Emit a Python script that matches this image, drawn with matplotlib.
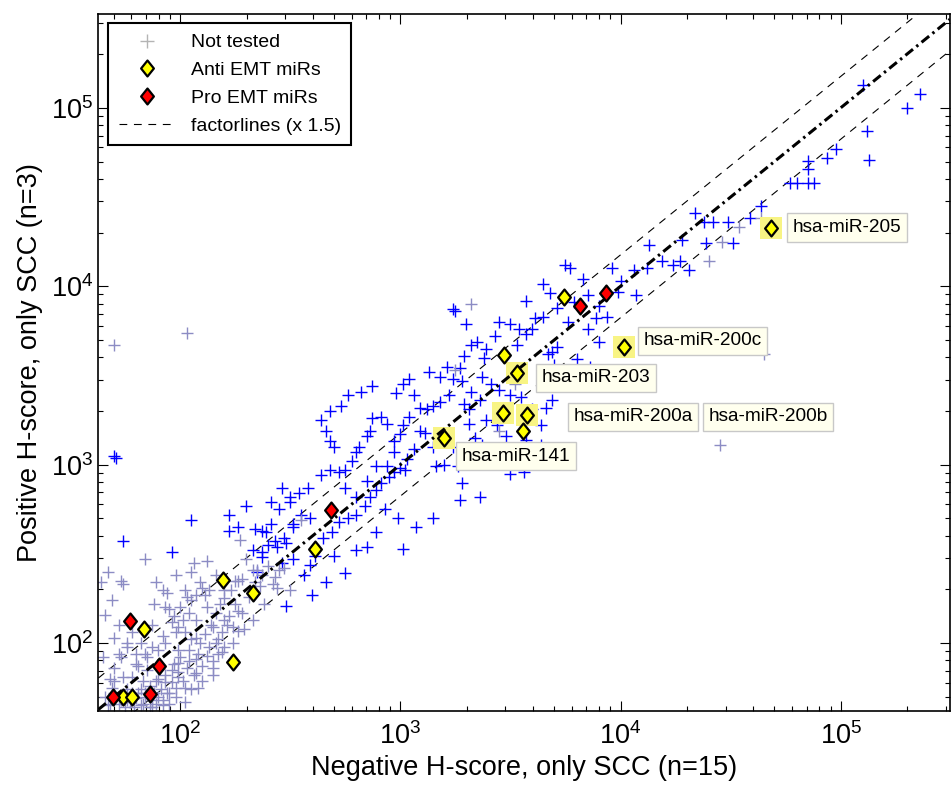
import numpy as np
import matplotlib
matplotlib.use("Agg")
import matplotlib.pyplot as plt
from matplotlib.lines import Line2D
from matplotlib.path import Path
from matplotlib.ticker import LogLocator, LogFormatterMathtext, NullFormatter

plt.rcParams['font.family'] = ['Liberation Sans', 'DejaVu Sans']
plt.rcParams['mathtext.fontset'] = 'custom'
plt.rcParams['mathtext.rm'] = 'Liberation Sans'
plt.rcParams['mathtext.it'] = 'Liberation Sans:italic'
plt.rcParams['mathtext.bf'] = 'Liberation Sans:bold'

# ---------------- data (log10 of H-scores) ----------------
blue_neg_log = [5.10, 5.36, 5.30, 5.12, 4.98, 4.94, 4.85, 4.85, 5.13, 4.77, 4.80, 4.85, 4.88,
                4.64, 4.59, 4.49, 4.42, 4.38, 4.39, 4.51, 4.34, 4.28, 4.27, 4.24, 4.19, 4.13,
                4.12, 4.06, 4.00, 3.96, 4.31, 3.77, 3.83, 3.85, 3.79, 3.71, 3.68, 3.65, 3.90,
                3.94, 3.89, 3.76, 3.85, 3.90, 3.71, 3.69, 3.67, 3.61, 3.60, 3.57, 3.54, 3.53,
                3.50, 3.45, 3.43, 3.39, 3.38, 3.35, 3.32, 3.29, 3.25, 3.24, 3.75, 3.65, 3.57,
                3.37, 3.41, 3.45, 3.50, 3.55, 3.60, 3.66, 3.69, 3.70, 3.73, 3.70, 3.77, 3.80,
                3.84, 3.86, 3.36, 3.32, 3.28, 3.27, 3.24, 3.22, 3.18, 3.15, 3.12, 3.09, 3.06,
                3.04, 3.01, 3.00, 2.97, 2.94, 2.91, 2.87, 2.86, 2.85, 2.81, 2.80, 2.78, 2.75,
                2.72, 2.70, 2.68, 2.66, 2.64, 2.68, 2.73, 2.76, 2.82, 2.87, 2.98, 3.01, 3.04,
                3.13, 3.18, 3.21, 3.30, 3.16, 3.20, 3.26, 3.28, 3.24, 3.15, 3.11, 3.09, 3.06,
                3.03, 3.00, 2.97, 2.95, 2.91, 2.89, 2.86, 2.84, 2.80, 2.76, 2.72, 2.69, 2.65,
                2.61, 2.59, 2.56, 2.59, 2.55, 2.51, 2.47, 2.43, 2.40, 2.37, 2.35, 2.37, 2.41,
                2.45, 2.50, 2.54, 2.58, 2.64, 2.68, 2.75, 2.80, 2.85, 2.89, 2.94, 2.97, 3.01,
                2.99, 2.89, 2.93, 2.85, 2.80, 2.75, 2.70, 2.66, 2.60, 2.22, 2.26, 2.30, 2.34,
                2.33, 2.37, 2.39, 2.44, 2.41, 2.22, 2.51, 2.48, 2.46, 2.51, 2.48, 2.46, 2.50,
                1.74, 1.96, 2.05, 1.70, 1.71, 3.36, 3.50, 3.56, 3.57, 3.64, 3.64, 3.40, 3.37,
                3.34, 3.31, 3.31, 3.29, 3.39, 3.44, 3.48, 3.27, 3.15, 3.07, 3.02, 4.07, 3.99]
blue_pos_log = [5.13, 5.08, 5.00, 4.87, 4.77, 4.72, 4.70, 4.66, 4.71, 4.58, 4.58, 4.58, 4.58,
                4.45, 4.38, 4.36, 4.36, 4.36, 4.24, 4.24, 4.41, 4.26, 4.14, 4.12, 4.14, 4.23,
                4.10, 4.09, 4.03, 4.10, 4.09, 4.10, 4.04, 3.95, 3.91, 3.88, 3.96, 3.83, 3.89,
                3.83, 3.82, 3.80, 3.76, 3.69, 3.66, 3.63, 3.62, 3.82, 3.76, 3.73, 3.76, 3.67,
                3.79, 3.80, 3.72, 3.65, 3.60, 3.69, 3.67, 3.61, 3.86, 3.87, 4.12, 4.01, 3.92,
                3.49, 3.45, 3.42, 3.39, 3.38, 3.31, 3.32, 3.36, 3.45, 3.48, 3.56, 3.44, 3.59,
                3.50, 3.55, 3.36, 3.41, 3.47, 3.54, 3.48, 3.39, 3.35, 3.33, 3.31, 3.32, 3.39,
                3.27, 3.22, 3.17, 3.13, 3.23, 3.27, 3.26, 3.19, 3.16, 3.10, 3.07, 3.02, 2.97,
                2.96, 3.10, 3.13, 3.19, 3.25, 3.30, 3.33, 3.39, 3.41, 3.44, 3.40, 3.45, 3.48,
                3.52, 3.49, 3.55, 3.79, 2.99, 3.00, 2.99, 2.90, 3.10, 3.10, 3.18, 3.19, 3.09,
                3.03, 2.98, 2.96, 2.93, 2.90, 2.86, 2.82, 2.77, 2.72, 2.70, 2.68, 2.62, 2.59,
                2.49, 2.44, 2.38, 2.70, 2.72, 2.65, 2.59, 2.57, 2.55, 2.48, 2.40, 2.63, 2.67,
                2.75, 2.79, 2.84, 2.87, 2.94, 2.97, 2.87, 2.82, 2.91, 2.99, 2.99, 3.07, 2.53,
                2.70, 2.62, 2.75, 2.54, 2.52, 2.39, 2.49, 2.34, 2.27, 2.72, 2.65, 2.77, 2.64,
                2.52, 2.51, 2.62, 2.54, 2.79, 2.63, 2.67, 2.56, 2.45, 2.47, 2.21, 2.87, 2.82,
                2.57, 2.51, 2.69, 3.05, 3.04, 2.82, 2.95, 2.96, 3.14, 3.11, 3.22, 3.08, 3.11,
                3.15, 3.23, 3.31, 3.34, 3.25, 3.22, 3.16, 2.80, 2.70, 2.65, 2.97, 3.95, 3.97]

gray_neg_log = [1.70, 2.03, 1.84, 2.06, 1.73, 1.89, 1.92, 1.70, 1.76, 1.72, 1.93, 1.95, 2.03,
                2.05, 2.10, 2.13, 2.11, 2.20, 2.26, 2.35, 2.30, 2.25, 2.43, 2.44, 2.28, 2.26,
                2.15, 2.07, 2.01, 1.98, 2.07, 2.13, 2.15, 2.17, 2.08, 2.04, 1.99, 1.93, 1.87,
                1.84, 1.80, 1.81, 1.85, 1.78, 1.74, 1.70, 1.69, 1.83, 1.89, 1.93, 1.96, 1.99,
                2.02, 1.95, 1.90, 1.81, 1.76, 2.07, 2.10, 1.99, 2.20, 2.24, 2.19, 2.16, 2.20,
                2.02, 2.05, 2.04, 1.97, 1.99, 2.16, 2.22, 2.12, 2.33, 2.34, 2.37, 2.40, 2.20,
                2.25, 2.45, 2.07, 2.15, 1.98, 1.84, 1.87, 1.92, 1.76, 4.64, 4.54, 4.46, 4.40,
                4.65, 4.45, 2.27, 1.73, 1.67, 1.82, 2.05, 3.25, 3.52, 3.45, 3.32, 2.55, 1.64,
                1.66, 1.68, 1.70, 1.72, 1.74, 1.75, 1.77, 1.78, 1.79, 1.80, 1.82, 1.83, 1.84,
                1.86, 1.86, 1.87, 1.88, 1.89, 1.90, 1.91, 1.92, 1.93, 1.94, 1.95, 1.96, 1.97,
                1.98, 1.99, 2.00, 2.01, 2.02, 2.03, 2.04, 2.06, 2.07, 2.08, 2.09, 2.10, 2.11,
                2.12, 2.14, 2.15, 2.17, 2.18, 2.19, 2.21, 2.23, 2.24, 2.26, 2.28, 2.29, 2.31,
                2.33, 2.36, 2.38, 2.42, 2.47, 2.50, 1.70, 1.73, 1.76, 1.78, 1.72, 1.80, 1.82,
                1.85, 1.87, 1.88, 1.90, 1.92, 1.94, 1.96, 1.98, 2.00, 2.02, 2.05, 2.09, 2.12,
                2.16, 1.68, 1.66, 1.69, 1.74, 1.65, 1.67]
gray_pos_log = [3.67, 3.74, 2.47, 2.45, 2.35, 2.34, 2.30, 2.03, 2.00, 1.94, 2.20, 2.19, 2.26,
                2.24, 2.31, 2.30, 2.27, 2.25, 2.35, 2.41, 2.47, 2.35, 2.37, 2.31, 2.17, 2.07,
                2.09, 2.13, 2.13, 2.06, 2.03, 1.98, 1.90, 1.94, 1.94, 1.90, 1.96, 2.00, 1.98,
                1.94, 1.94, 1.87, 1.85, 1.81, 1.81, 1.79, 1.75, 1.79, 1.79, 1.78, 1.85, 1.81,
                1.75, 1.72, 1.70, 1.72, 1.74, 1.83, 1.79, 1.89, 2.13, 2.09, 2.06, 2.00, 1.98,
                2.06, 2.02, 2.17, 2.15, 2.09, 2.17, 2.15, 2.20, 2.41, 2.34, 2.38, 2.43, 2.30,
                2.22, 2.41, 2.27, 1.82, 1.75, 1.72, 1.64, 1.65, 1.68, 4.38, 4.33, 4.25, 4.14,
                3.62, 3.11, 2.58, 1.68, 1.65, 1.65, 1.74, 3.53, 3.45, 3.19, 3.90, 2.69, 2.34,
                1.70, 1.66, 1.72, 1.66, 1.70, 1.64, 1.67, 1.72, 1.64, 1.69, 1.74, 1.66, 1.70,
                1.64, 1.76, 1.68, 1.72, 1.66, 1.80, 1.74, 1.68, 1.82, 1.72, 1.66, 1.78, 1.88,
                1.70, 1.84, 1.92, 1.79, 1.67, 1.86, 1.96, 1.82, 1.91, 1.75, 2.00, 1.87, 2.05,
                1.93, 2.10, 1.86, 2.02, 2.22, 1.95, 2.10, 2.30, 2.00, 2.18, 2.36, 2.08, 2.26,
                2.13, 2.32, 2.22, 2.33, 2.42, 2.30, 1.86, 1.92, 1.98, 2.06, 2.10, 1.88, 2.00,
                1.92, 2.10, 2.22, 1.96, 2.04, 2.28, 2.12, 2.38, 2.20, 2.30, 2.40, 2.34, 2.46,
                2.38, 1.80, 2.16, 2.24, 2.33, 1.92, 2.40]

anti_neg = [48100, 10400, 3400, 2940, 2910, 3740, 3590, 1570, 5510, 157, 215, 68.6, 174, 55, 60.5, 411]
anti_pos = [21300, 4570, 3270, 4120, 1950, 1900, 1545, 1410, 8730, 225, 191, 120, 78, 49.8, 49.8, 337]
pro_neg = [6520, 8550, 486, 59.3, 80.3, 49.5, 73.1]
pro_pos = [7760, 9190, 557, 133, 74.3, 49.8, 51.8]

label_names = ['hsa-miR-205', 'hsa-miR-200c', 'hsa-miR-203', 'hsa-miR-200a', 'hsa-miR-200b', 'hsa-miR-141']
label_neg = [48100, 10400, 3400, 2910, 3740, 1570]
label_pos = [21300, 4570, 3270, 1950, 1900, 1410]
label_offsets = [(22, 0), (19, 6), (24, -5), (71, -4), (182, -2), (18, -18)]  # pixels

factor = 1.5
xlim = (42.4, 3.14e5)
ylim = (41.6, 3.36e5)

# ---------------- figure ----------------
fig = plt.figure(figsize=(9.51, 7.92), dpi=100)
ax = fig.add_axes([98.3 / 951, 81 / 792, 851.7 / 951, 697 / 792])
ax.set_xscale('log')
ax.set_yscale('log')
ax.set_xlim(*xlim)
ax.set_ylim(*ylim)

xx = np.array(xlim)
ax.plot(xx, xx * factor, color='black', lw=0.8, linestyle=(0, (7, 6)), zorder=1.5)
ax.plot(xx, xx / factor, color='black', lw=0.8, linestyle=(0, (7, 6)), zorder=1.5)
ax.plot(xx, xx, color='black', lw=2.2, linestyle=(0, (3.2, 1.4, 0.8, 1.4)), zorder=5)

ax.scatter(10 ** np.array(blue_neg_log), 10 ** np.array(blue_pos_log), marker='+',
           s=80, linewidths=1.0, color='#0000ff', zorder=2)
ax.scatter(10 ** np.array(gray_neg_log), 10 ** np.array(gray_pos_log), marker='+',
           s=80, linewidths=1.0, color='#8c8cc4', zorder=2.2)

ax.scatter(label_neg, label_pos, marker='s', s=250, color='#f8f484', zorder=3, linewidths=0)

diamond = Path([(0, 1), (0.8, 0), (0, -1), (-0.8, 0), (0, 1)],
               [Path.MOVETO, Path.LINETO, Path.LINETO, Path.LINETO, Path.CLOSEPOLY])
ax.plot(anti_neg, anti_pos, linestyle='none', marker=diamond, markersize=11.5,
        markerfacecolor='#ffff00', markeredgecolor='black', markeredgewidth=1.6, zorder=6)
ax.plot(pro_neg, pro_pos, linestyle='none', marker=diamond, markersize=11.5,
        markerfacecolor='#ff0000', markeredgecolor='black', markeredgewidth=1.6, zorder=6)

for name, xv, yv, off in zip(label_names, label_neg, label_pos, label_offsets):
    ax.annotate(name, xy=(xv, yv), xytext=off, textcoords='offset pixels',
                ha='left', va='center', fontsize=13.7, zorder=7,
                bbox=dict(boxstyle='square,pad=0.3', fc='#ffffee', ec='#c8c8c8', lw=1))

# ticks
for axis in (ax.xaxis, ax.yaxis):
    axis.set_major_locator(LogLocator(base=10, numticks=20))
    axis.set_major_formatter(LogFormatterMathtext())
    axis.set_minor_locator(LogLocator(base=10, subs=np.arange(2, 10), numticks=20))
    axis.set_minor_formatter(NullFormatter())
ax.tick_params(which='both', direction='in', top=True, right=True, width=0.8, labelsize=19.5)
ax.tick_params(which='major', length=7)
ax.tick_params(which='minor', length=3.5)
ax.tick_params(axis='x', pad=8)
for sp in ax.spines.values():
    sp.set_linewidth(1.2)

ax.set_xlabel('Negative H-score, only SCC (n=15)', fontsize=19.5, labelpad=4)
ax.set_ylabel('Positive H-score, only SCC (n=3)', fontsize=19.5, labelpad=6)

handles = [
    Line2D([], [], linestyle='none', marker='+', markersize=10, color='#b4b4b4', markeredgewidth=1),
    Line2D([], [], linestyle='none', marker=diamond, markersize=11.5, markerfacecolor='#ffff00',
           markeredgecolor='black', markeredgewidth=1.6),
    Line2D([], [], linestyle='none', marker=diamond, markersize=11.5, markerfacecolor='#ff0000',
           markeredgecolor='black', markeredgewidth=1.6),
    Line2D([], [], color='black', lw=0.8, linestyle=(0, (7, 6))),
]
labels = ['Not tested', 'Anti EMT miRs', 'Pro EMT miRs', 'factorlines (x 1.5)']
leg = ax.legend(handles, labels, loc='upper left', bbox_to_anchor=(0.0114, 0.987),
                borderaxespad=0, fontsize=14, handlelength=2.9, handletextpad=0.8,
                labelspacing=0.52, borderpad=0.55, fancybox=False, framealpha=1)
leg.get_frame().set_edgecolor('black')
leg.get_frame().set_linewidth(1.5)
leg.set_zorder(10)

fig.savefig('out.png', dpi=100)
